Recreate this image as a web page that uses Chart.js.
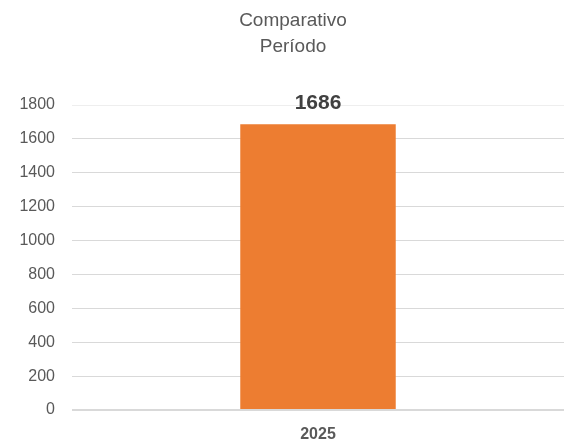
<!DOCTYPE html>
<html>
<head>
  <title>Comparativo Período</title>
  <script src="https://cdn.jsdelivr.net/npm/chart.js"></script>
  <style>
    body { margin: 0; background: #fff; }
    #wrap { width: 564px; height: 440px; }
  </style>
</head>
<body>
  <div id="wrap"><canvas id="chart"></canvas></div>

  <script>
    const categories = ['2025'];
    const values = [1686];
    const yTicks = [0, 200, 400, 600, 800, 1000, 1200, 1400, 1600, 1800];
    const titleLines = ['Comparativo', 'Período'];

    const FONT = '"Liberation Sans", Arial, sans-serif';

    // two-line chart title, a bit right of centre like the original
    const chartTitle = {
      id: 'chartTitle',
      afterDraw(chart) {
        const ctx = chart.ctx;
        ctx.save();
        ctx.font = '19px ' + FONT;
        ctx.fillStyle = '#595959';
        ctx.textAlign = 'center';
        ctx.textBaseline = 'middle';
        titleLines.forEach((line, i) => {
          ctx.fillText(line, chart.width / 2 + 11, 21 + i * 26);
        });
        ctx.restore();
      }
    };

    // draws the value above each bar
    const valueLabels = {
      id: 'valueLabels',
      afterDatasetsDraw(chart) {
        const ctx = chart.ctx;
        const meta = chart.getDatasetMeta(0);
        ctx.save();
        ctx.font = 'bold 21px ' + FONT;
        ctx.fillStyle = '#404040';
        ctx.textAlign = 'center';
        ctx.textBaseline = 'bottom';
        meta.data.forEach((bar, i) => {
          ctx.fillText(values[i], bar.x, bar.y - 11);
        });
        ctx.restore();
      }
    };

    new Chart(document.getElementById('chart'), {
      type: 'bar',
      data: {
        labels: categories,
        datasets: [{
          data: values,
          backgroundColor: '#ED7D31',
          categoryPercentage: 1,
          barPercentage: 0.316
        }]
      },
      options: {
        responsive: true,
        maintainAspectRatio: false,
        animation: false,
        layout: { padding: { top: 105, right: 0, bottom: 0, left: 8 } },
        plugins: {
          legend: { display: false },
          tooltip: { enabled: false },
          title: { display: false }
        },
        scales: {
          x: {
            afterFit(axis) { axis.height = 30; },
            grid: { display: false },
            border: { display: false },
            ticks: {
              color: '#595959',
              font: { family: FONT, size: 16, weight: 'bold' },
              padding: 7
            }
          },
          y: {
            min: 0,
            max: 1800,
            afterFit(axis) { axis.width = 64; },
            afterBuildTicks(axis) {
              axis.ticks = yTicks.map(v => ({ value: v }));
            },
            grid: {
              color: ctx => ctx.tick && ctx.tick.value === 1800 ? '#eeeeee' : '#d9d9d9',
              lineWidth: ctx => ctx.tick && ctx.tick.value === 0 ? 2 : 1,
              drawTicks: false
            },
            border: { display: false },
            ticks: {
              color: '#595959',
              font: { family: FONT, size: 16 },
              padding: 17,
              callback: v => String(v)
            }
          }
        }
      },
      plugins: [valueLabels, chartTitle]
    });
  </script>
</body>
</html>
